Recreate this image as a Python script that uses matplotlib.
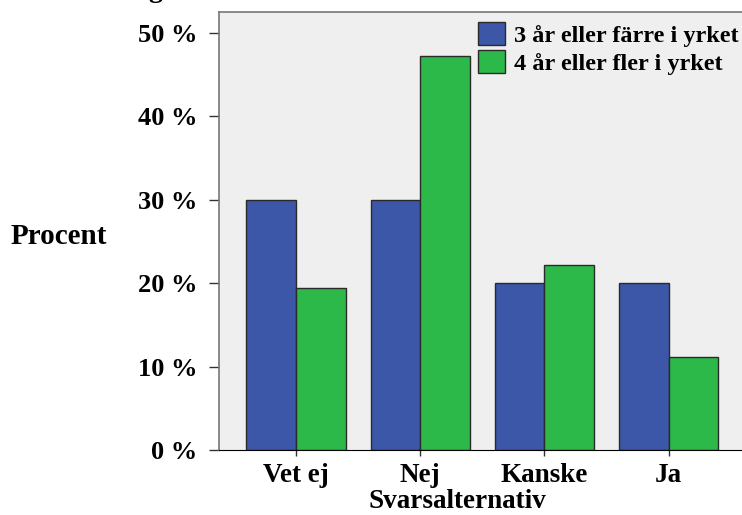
import matplotlib.pyplot as plt
import numpy as np

categories = ["Vet ej", "Nej", "Kanske", "Ja"]
series_names = ["3 år eller färre i yrket", "4 år eller fler i yrket"]
upp_till_3 = [30.0, 30.0, 20.0, 20.0]
fyra_plus = [19.4, 47.2, 22.2, 11.1]
yticks = [0, 10, 20, 30, 40, 50]

plt.rcParams['font.family'] = ['Liberation Serif', 'DejaVu Serif']
plt.rcParams['font.weight'] = 'bold'

W, H = 742, 515
fig = plt.figure(figsize=(W / 100, H / 100), dpi=100)
# axes run off the right edge of the figure
ax = fig.add_axes([219 / W, 65 / H, 523 / W, 438 / H])
ax.set_facecolor('#efefef')

x = np.arange(len(categories))
w = 0.40
ax.bar(x - w / 2, upp_till_3, w, color='#3c56a8', edgecolor='#2a2a2a', linewidth=1.0,
       label=series_names[0])
ax.bar(x + w / 2, fyra_plus, w, color='#2db84a', edgecolor='#2a2a2a', linewidth=1.0,
       label=series_names[1])

ax.set_xlim(-0.62, 3.59)
ax.set_ylim(0, 52.5)
ax.set_xticks(x)
ax.set_xticklabels(categories, fontsize=19.5, fontweight='bold')
ax.set_yticks(yticks)
ax.set_yticklabels([f"{v} %" for v in yticks], fontsize=19, fontweight='bold')
ax.tick_params(axis='y', length=7.5, width=1, color='#333333', pad=8)
ax.tick_params(axis='x', length=4.5, width=1, color='#333333', pad=5)

for side in ['top', 'left']:
    ax.spines[side].set_color('#777777')
    ax.spines[side].set_linewidth(1.2)
ax.spines['bottom'].set_color('#000000')
ax.spines['right'].set_visible(False)

ax.set_xlabel("Svarsalternativ", fontsize=19.5, fontweight='bold')
ax.xaxis.set_label_coords((457 - 219) / 523, -(508 - 450) / 438)
ax.xaxis.label.set_va('baseline')
fig.text(11 / W, 1 - 236 / H, "Procent", fontsize=21, fontweight='bold',
         va='center', ha='left')
# title above the frame, clipped by the figure edge
fig.text(155 / W, 1 + 3 / H, "g", fontsize=20, fontweight='bold',
         ha='center', va='baseline')

leg = ax.legend(loc='upper left', bbox_to_anchor=(478 / W, 1 - 22 / H),
                bbox_transform=fig.transFigure, frameon=False,
                fontsize=17.5, handlelength=1.1, handleheight=1.05, handletextpad=0.4,
                labelspacing=0.15, borderpad=0, borderaxespad=0)
for t in leg.get_texts():
    t.set_fontweight('bold')

fig.savefig("out.png", dpi=100)
